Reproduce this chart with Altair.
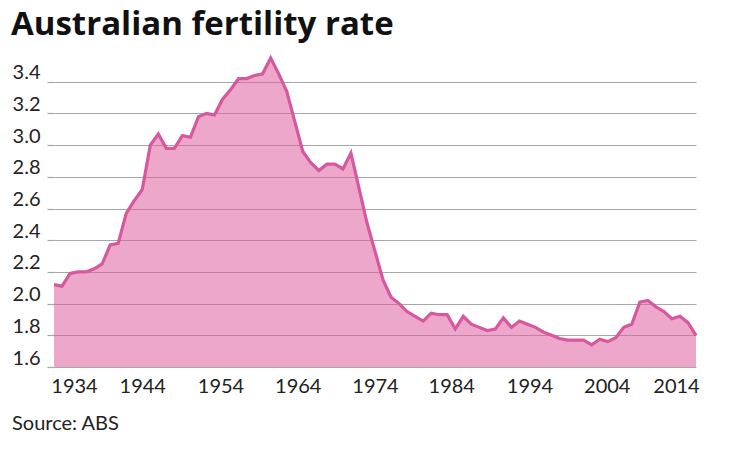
import altair as alt
import pandas as pd

years = list(range(1934, 2015))
rates = [
    2.12, 2.11, 2.19, 2.20, 2.20, 2.22, 2.25, 2.37, 2.38, 2.57,
    2.65, 2.72, 3.00, 3.07, 2.98, 2.98, 3.06, 3.05, 3.18, 3.20,
    3.19, 3.29, 3.35, 3.42, 3.42, 3.44, 3.45, 3.55, 3.45, 3.34,
    3.15, 2.96, 2.89, 2.84, 2.88, 2.88, 2.85, 2.95, 2.73, 2.51,
    2.33, 2.15, 2.04, 2.00, 1.95, 1.92, 1.89, 1.94, 1.93, 1.93,
    1.84, 1.92, 1.87, 1.85, 1.83, 1.84, 1.91, 1.85, 1.89, 1.87,
    1.85, 1.82, 1.80, 1.78, 1.77, 1.77, 1.77, 1.74, 1.775, 1.76,
    1.785, 1.85, 1.87, 2.01, 2.02, 1.98, 1.95, 1.905, 1.92, 1.88,
    1.80,
]
x_ticks = [1934, 1944, 1954, 1964, 1974, 1984, 1994, 2004, 2014]
y_ticks = [1.6, 1.8, 2.0, 2.2, 2.4, 2.6, 2.8, 3.0, 3.2, 3.4]
title_text = ["Australian fertility rate"]
source_text = ["Source: ABS"]

df = pd.DataFrame({"year": years, "rate": rates})
src = pd.DataFrame({"t": source_text})
ttl = pd.DataFrame({"t": title_text})

FONT = "Lato"
LINE = "#d6589e"
FILL = "#dc5fa0"
GRID = "#a6a6a6"

label_shift = {1934: 20, 1944: 8, 1954: 6, 1964: 3, 1974: 0,
               1984: -4, 1994: -6, 2004: -9, 2014: -20}
offset_cond = {
    "condition": [{"test": f"datum.value == {k}", "value": v}
                  for k, v in label_shift.items() if v != 0],
    "value": 0,
}

area = alt.Chart(df).mark_area(
    fill=FILL, fillOpacity=0.55,
    line={"color": LINE, "strokeWidth": 3.2, "strokeJoin": "miter"},
).encode(
    x=alt.X("year:Q",
            scale=alt.Scale(domain=[1934, 2014], nice=False, zero=False),
            axis=alt.Axis(values=x_ticks, format="d", title=None, grid=False,
                          domain=False, ticks=False, labelPadding=9,
                          labelFont=FONT, labelFontSize=20, labelColor="#222",
                          labelFlush=False, labelOverlap=False,
                          labelOffset=offset_cond)),
    y=alt.Y("rate:Q",
            scale=alt.Scale(domain=[1.6, 3.55], nice=False, zero=False),
            axis=alt.Axis(values=y_ticks, format=".1f", title=None, grid=True,
                          gridColor=GRID, gridWidth=1.2, domain=False,
                          tickSize=7, tickColor=GRID, tickWidth=1.2,
                          labelPadding=7, labelBaseline="alphabetic",
                          labelOffset=-3, labelFont=FONT, labelFontSize=20,
                          labelColor="#222")),
    y2=alt.datum(1.6),
)

source = alt.Chart(src).mark_text(
    align="left", baseline="alphabetic", font=FONT, fontSize=20, color="#222"
).encode(x=alt.value(-42), y=alt.value(372), text="t:N")

title = alt.Chart(ttl).mark_text(
    align="left", baseline="alphabetic", font="Open Sans", fontSize=33,
    fontWeight="bold", color="#111"
).encode(x=alt.value(-43), y=alt.value(-23), text="t:N")

chart = alt.layer(area, source, title).properties(
    width=642,
    height=309,
    autosize=alt.AutoSizeParams(type="none"),
    padding={"left": 46, "top": 50, "right": 25, "bottom": 80},
).configure_view(stroke=None)

chart.save("out.html", embed_options={"renderer": "svg", "actions": False})
